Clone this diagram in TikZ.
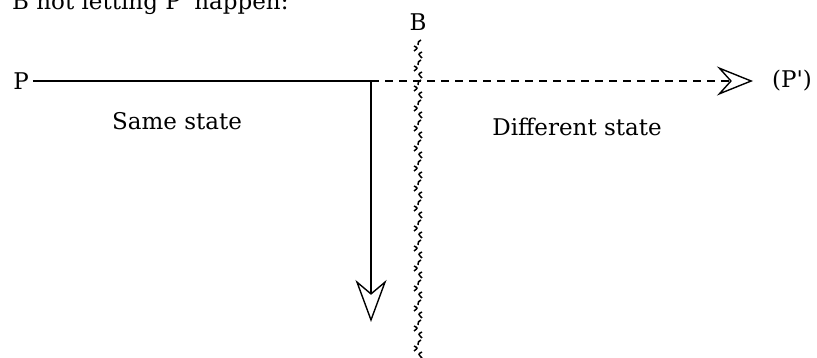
\documentclass[tikz,border=0pt]{standalone}
\usepackage{fontspec}
\setmainfont{DejaVu Serif}
\usetikzlibrary{arrows.meta}
\tikzset{
  lbl/.style={inner sep=0pt, font=\fontsize{23}{26}\selectfont},
  solidline/.style={line width=1.8pt},
  dashline/.style={line width=1.5pt, dash pattern=on 8pt off 6pt},
  wave/.style={line width=1.5pt},
}
\begin{document}
\begin{tikzpicture}[x=1pt,y=-1pt]
\useasboundingbox (0,0) rectangle (817,358);
% title, clipped at top as in the reference
\node[lbl, anchor=base west] (title) at (12,10) {B not letting P\textquotesingle{} happen:};
% nodes
\node[lbl, inner xsep=4pt] (P) at (21,81) {P};
\coordinate (c) at (371,81);
\coordinate (dn) at (371,322);
\node[lbl, anchor=west] (Pp) at (772,81) {(P\textquotesingle)};
\node[lbl] (B) at (418,22) {B};
\node[lbl] (same) at (177,121) {Same state};
\node[lbl] (diff) at (577,127) {Different state};
% connectors
\draw[solidline] (P) -- (c);
\draw[solidline, -{Stealth[open, length=42pt, width=31pt, inset=13pt, line width=1.4pt]}] (c) -- (dn);
\draw[dashline, -{Stealth[open, length=36pt, width=29pt, inset=13pt, line width=1.4pt, sep=0pt]}, shorten >=19pt] (c) -- (Pp.west);
% wavy barrier
\foreach \yy in {40,60,...,340}{
  \draw[wave] (421,\yy) .. controls (418,\yy+2) .. (418,\yy+5);
  \draw[wave] (414,\yy+6) .. controls (418,\yy+8) .. (414,\yy+11);
  \draw[wave] (422,\yy+12) .. controls (418,\yy+14) .. (422,\yy+18);
}
\end{tikzpicture}
\end{document}
